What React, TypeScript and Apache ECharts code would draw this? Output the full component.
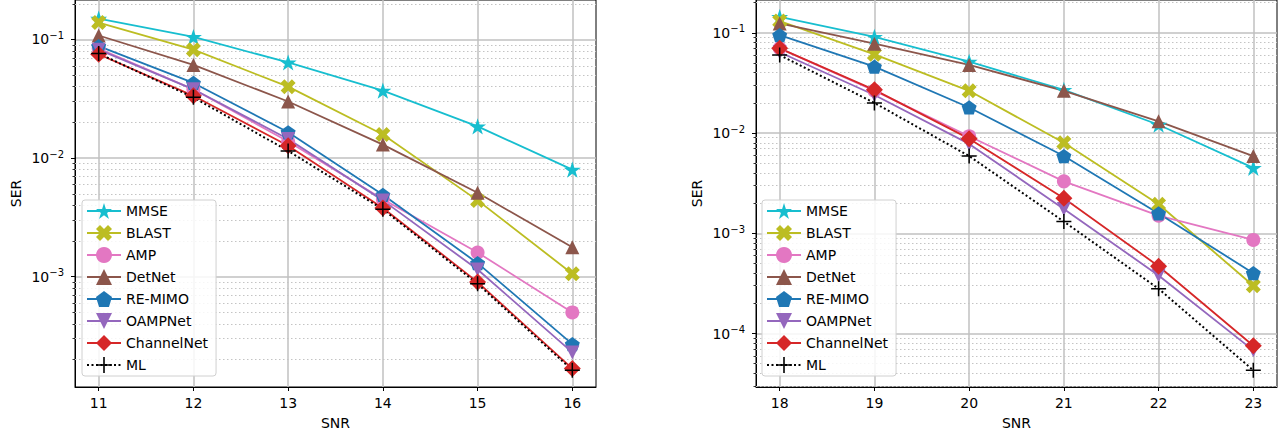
import React, { useEffect, useRef } from 'react';
import * as echarts from 'echarts';

// ---------- data ----------
const snrLeft = [11, 12, 13, 14, 15, 16];
const snrRight = [18, 19, 20, 21, 22, 23];

const seriesNames = ['MMSE', 'BLAST', 'AMP', 'DetNet', 'RE-MIMO', 'OAMPNet', 'ChannelNet', 'ML'];

const mmseLeft = [0.15, 0.105, 0.064, 0.037, 0.0185, 0.008];
const blastLeft = [0.139, 0.082, 0.04, 0.0158, 0.0044, 0.00106];
const ampLeft = [0.084, 0.038, 0.0138, 0.0045, 0.0016, 0.0005];
const detnetLeft = [0.108, 0.061, 0.03, 0.013, 0.0051, 0.00177];
const remimoLeft = [0.088, 0.043, 0.0165, 0.0049, 0.0013, 0.00027];
const oampLeft = [0.082, 0.038, 0.0145, 0.0044, 0.00115, 0.00023];
const channelLeft = [0.075, 0.0335, 0.0127, 0.0038, 0.0009, 0.000168];
const mlLeft = [0.076, 0.0325, 0.0115, 0.0037, 0.00087, 0.000163];

const mmseRight = [0.144, 0.091, 0.0515, 0.027, 0.0121, 0.0045];
const blastRight = [0.131, 0.061, 0.0264, 0.008, 0.00195, 0.0003];
const ampRight = [0.07, 0.0265, 0.0093, 0.0033, 0.0015, 0.00086];
const detnetRight = [0.124, 0.078, 0.0478, 0.0264, 0.0131, 0.0059];
const remimoRight = [0.095, 0.046, 0.018, 0.0059, 0.00158, 0.0004];
const oampRight = [0.064, 0.024, 0.0078, 0.00175, 0.00038, 0.000068];
const channelRight = [0.07, 0.027, 0.0088, 0.00224, 0.00047, 0.0000755];
const mlRight = [0.06, 0.02, 0.0059, 0.00131, 0.00028, 0.000043];

const leftValues = [mmseLeft, blastLeft, ampLeft, detnetLeft, remimoLeft, oampLeft, channelLeft, mlLeft];
const rightValues = [mmseRight, blastRight, ampRight, detnetRight, remimoRight, oampRight, channelRight, mlRight];

const xTicksLeft = [11, 12, 13, 14, 15, 16];
const xTicksRight = [18, 19, 20, 21, 22, 23];
const yMajorLeft = [1e-3, 1e-2, 1e-1];
const yMajorRight = [1e-4, 1e-3, 1e-2, 1e-1];
const yMinorLeft = [2e-4, 3e-4, 4e-4, 5e-4, 6e-4, 7e-4, 8e-4, 9e-4, 2e-3, 3e-3, 4e-3, 5e-3, 6e-3, 7e-3, 8e-3, 9e-3, 2e-2, 3e-2, 4e-2, 5e-2, 6e-2, 7e-2, 8e-2, 9e-2, 2e-1];
const yMinorRight = [3e-5, 4e-5, 5e-5, 6e-5, 7e-5, 8e-5, 9e-5, 2e-4, 3e-4, 4e-4, 5e-4, 6e-4, 7e-4, 8e-4, 9e-4, 2e-3, 3e-3, 4e-3, 5e-3, 6e-3, 7e-3, 8e-3, 9e-3, 2e-2, 3e-2, 4e-2, 5e-2, 6e-2, 7e-2, 8e-2, 9e-2, 2e-1];

// ---------- styles ----------
const STAR = 'path://M50 0 L61.23 34.55 L97.55 34.55 L68.17 55.9 L79.39 90.45 L50 69.1 L20.61 90.45 L31.83 55.9 L2.45 34.55 L38.77 34.55 Z';
const XFILL = 'path://M75 0 L100 25 L75 50 L100 75 L75 100 L50 75 L25 100 L0 75 L25 50 L0 25 L25 0 L50 25 Z';
const PENT = 'path://M50 0 L97.55 34.55 L79.39 90.45 L20.61 90.45 L2.45 34.55 Z';
const PLUS = 'path://M45 0 L55 0 L55 45 L100 45 L100 55 L55 55 L55 100 L45 100 L45 55 L0 55 L0 45 L45 45 Z';

const styles = [
  { color: '#17becf', symbol: STAR, size: 17, rotate: 0 },
  { color: '#bcbd22', symbol: XFILL, size: 15, rotate: 0 },
  { color: '#e377c2', symbol: 'circle', size: 14, rotate: 0 },
  { color: '#8c564b', symbol: 'triangle', size: 14, rotate: 0 },
  { color: '#1f77b4', symbol: PENT, size: 15, rotate: 0 },
  { color: '#9467bd', symbol: 'triangle', size: 14, rotate: 180 },
  { color: '#d62728', symbol: 'diamond', size: 17, rotate: 0 },
  { color: '#000000', symbol: PLUS, size: 15, rotate: 0 },
];

const FONT = 'DejaVu Sans';

function supFormatter(v: number) {
  const l = Math.log10(v);
  const e = Math.round(l);
  if (Math.abs(l - e) > 1e-6) return '';
  return '{b|10}{s|' + (e < 0 ? '\u2212' + -e : String(e)) + '}';
}

function makeSeries(gridIdx: number, xs: number[], values: number[][], minor: number[]) {
  return values.map((ys, i) => {
    const st = styles[i];
    const isML = i === 7;
    const s: any = {
      type: 'line',
      name: seriesNames[i],
      xAxisIndex: gridIdx,
      yAxisIndex: gridIdx,
      data: xs.map((x, k) => [x, ys[k]]),
      symbol: st.symbol,
      symbolSize: st.size,
      symbolRotate: st.rotate,
      symbolKeepAspect: true,
      showSymbol: true,
      lineStyle: { color: st.color, width: isML ? 2 : 1.8, type: isML ? [2, 2.5] : 'solid' },
      itemStyle: { color: st.color, borderWidth: 0 },
      emphasis: { disabled: true },
      z: 3,
    };
    if (i === 0) {
      s.markLine = {
        silent: true,
        precision: 12,
        symbol: ['none', 'none'],
        label: { show: false },
        lineStyle: { color: '#c4c4c4', width: 1, type: [1.5, 2.5] },
        emphasis: { disabled: true },
        data: minor.map((v) => ({ yAxis: v })),
        z: 1,
      };
    }
    return s;
  });
}

function xAxis(gridIdx: number, min: number, max: number, ticks: number[]) {
  return {
    type: 'value',
    gridIndex: gridIdx,
    min,
    max,
    name: 'SNR',
    nameLocation: 'middle',
    nameGap: 29,
    nameTextStyle: { fontSize: 14, color: '#000', fontFamily: FONT },
    axisLine: { show: true, onZero: false, lineStyle: { color: '#000', width: 1 } },
    axisTick: { show: true, inside: false, length: 4, customValues: ticks, lineStyle: { color: '#000', width: 1 } },
    axisLabel: { show: true, margin: 9, fontSize: 14, color: '#000', fontFamily: FONT, customValues: ticks },
    splitLine: { show: true, lineStyle: { color: '#c0c0c0', width: 1.5 } },
  };
}

function yAxis(gridIdx: number, min: number, max: number, ticks: number[]) {
  return {
    type: 'log',
    logBase: 10,
    gridIndex: gridIdx,
    min,
    max,
    position: 'left',
    name: 'SER',
    nameLocation: 'middle',
    nameGap: 52,
    nameTextStyle: { fontSize: 14, color: '#000', fontFamily: FONT },
    axisLine: { show: true, lineStyle: { color: '#000', width: 1 } },
    axisTick: { show: true, inside: false, length: 4, customValues: ticks, lineStyle: { color: '#000', width: 1 } },
    axisLabel: {
      show: true,
      margin: 11,
      color: '#000',
      fontFamily: FONT,
      customValues: ticks,
      formatter: supFormatter,
      rich: {
        b: { fontSize: 14, lineHeight: 18, fontFamily: FONT, color: '#000' },
        s: { fontSize: 10, lineHeight: 10, verticalAlign: 'top', fontFamily: FONT, color: '#000' },
      },
    },
    splitLine: { show: true, lineStyle: { color: '#c0c0c0', width: 1.5 } },
  };
}

// a second, label-less log axis on the same grid that only carries the minor ticks
function yMinorAxis(gridIdx: number, min: number, max: number, ticks: number[]) {
  return {
    type: 'log',
    logBase: 10,
    gridIndex: gridIdx,
    min,
    max,
    position: 'left',
    offset: 0,
    axisLine: { show: false },
    axisTick: { show: true, inside: false, length: 2.5, customValues: ticks, lineStyle: { color: '#000', width: 0.8 } },
    axisLabel: { show: false },
    splitLine: { show: false },
  };
}

const legendText = { fontSize: 14, color: '#000', fontFamily: FONT };

function legend(left: number) {
  return {
    show: true,
    left,
    top: 200,
    orient: 'vertical',
    data: seriesNames.map((n) => ({ name: n, textStyle: legendText })),
    itemWidth: 34,
    itemHeight: 20,
    itemGap: 6,
    padding: [3, 8, 3, 4],
    backgroundColor: 'rgba(255,255,255,0.85)',
    borderColor: '#d0d0d0',
    borderWidth: 1,
    borderRadius: 3,
    selectedMode: false,
    textStyle: legendText,
  };
}

export default function App() {
  const ref = useRef<HTMLDivElement>(null);
  useEffect(() => {
    if (!ref.current) return;
    const chart = echarts.init(ref.current, null, { renderer: 'svg' });
    const option: any = {
      animation: false,
      backgroundColor: '#ffffff',
      textStyle: { fontFamily: FONT },
      grid: [
        { left: 75, top: -2, width: 521, height: 389, show: true, borderColor: '#000', borderWidth: 1, backgroundColor: 'transparent', containLabel: false },
        { left: 756, top: -2, width: 521, height: 389, show: true, borderColor: '#000', borderWidth: 1, backgroundColor: 'transparent', containLabel: false },
      ],
      xAxis: [xAxis(0, 10.75, 16.25, xTicksLeft), xAxis(1, 17.75, 23.25, xTicksRight)],
      yAxis: [
        yAxis(0, 1.175e-4, 0.2152, yMajorLeft),
        yAxis(1, 2.93e-5, 0.2126, yMajorRight),
        yMinorAxis(0, 1.175e-4, 0.2152, yMinorLeft),
        yMinorAxis(1, 2.93e-5, 0.2126, yMinorRight),
      ],
      legend: [legend(82), legend(762)],
      series: [
        ...makeSeries(0, snrLeft, leftValues, yMinorLeft),
        ...makeSeries(1, snrRight, rightValues, yMinorRight),
      ],
    };
    chart.setOption(option);
    return () => chart.dispose();
  }, []);
  return (
    <div
      ref={ref}
      style={{ position: 'absolute', left: 0, top: 0, width: 1284, height: 437, background: '#fff' }}
    />
  );
}
